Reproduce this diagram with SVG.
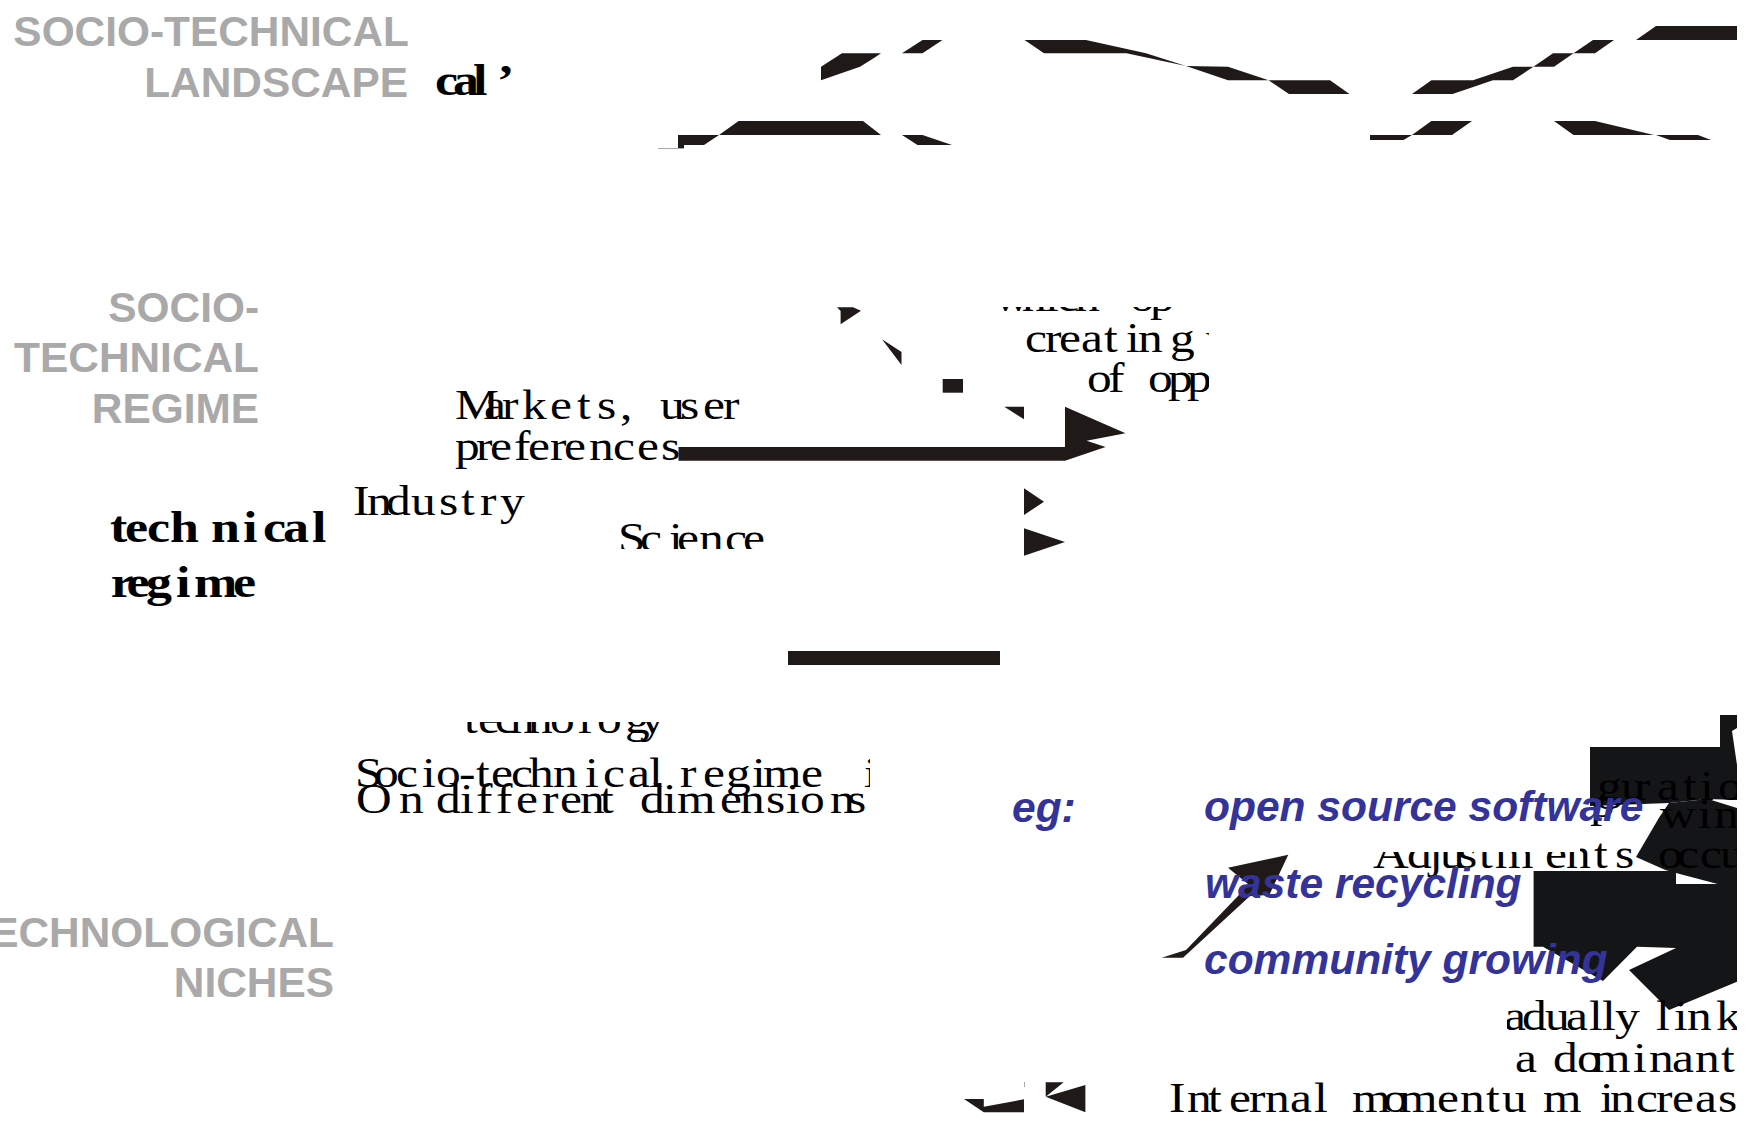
<svg xmlns="http://www.w3.org/2000/svg" width="1748" height="1125" viewBox="0 0 1748 1125">
<style>
.g{font:bold 42.4px "Liberation Sans",Arial,sans-serif;fill:#a9a9a9;text-anchor:end}
.t{font:43px "Liberation Serif","Times New Roman",serif;fill:#000;transform:scale(1.15,1)}
.b{font:bold 44px "Liberation Serif","Times New Roman",serif;fill:#000;transform:scale(1.18,1)}
.e{font:italic bold 42.5px "Liberation Sans",Arial,sans-serif;fill:#333399}
.k{fill:#1f1a17}
.d{fill:#141516}
</style>
<defs>
<clipPath id="c1"><rect x="900" y="307" width="309" height="100"/></clipPath>
<clipPath id="c2"><rect x="600" y="500" width="200" height="49"/></clipPath>
<clipPath id="c3"><rect x="400" y="722" width="300" height="30"/></clipPath>
<clipPath id="c4"><rect x="340" y="740" width="530" height="60"/></clipPath>
<clipPath id="c5"><rect x="1350" y="852" width="230" height="40"/><rect x="1580" y="840" width="157" height="50"/></clipPath>
<clipPath id="c6"><rect x="1507" y="990" width="230" height="135"/></clipPath>
<clipPath id="c7"><rect x="1100" y="760" width="637" height="360"/></clipPath>
</defs>
<g id="landscape-shapes">
<polygon class="k" points="821,66.7 842,53.3 881,53.3 874,58 860,66.7 821,80.3"/>
<polygon class="k" points="902,53.3 922.5,40 942.5,40 922.5,53.3"/>
<polygon class="k" points="1024.5,40 1086,40 1146,53.3 1186,66 1228,66.7 1268.6,80.3 1330,80.3 1349.5,94 1289,94 1268.6,80.3 1228,80.3 1186,66 1126.5,53.3 1044,53.3"/>
<polygon class="k" points="1412,94 1431.4,80.3 1473,80.3 1513,66.7 1533.4,66.7 1553,53.3 1573.5,53.3 1593,40 1614,40 1595,53.3 1573.5,53.3 1554,66.7 1533.4,66.7 1513,80.3 1493,80.3 1452.6,94"/>
<polygon class="k" points="1636,40 1656,26 1737,26 1737,40"/>
<polygon class="k" points="678,135 719,135 738.6,121 863,121 881,135 719,135 704,145 684,145 684,148.3 678,148.3"/>
<rect x="658" y="148" width="26" height="1" fill="#a9a9a9"/>
<polygon class="k" points="902,135 922.5,135 952,145 917.5,145"/>
<polygon class="k" points="1370,135 1412,135 1431.4,121 1472,121 1452,135 1412,135 1403.5,140 1370,140"/>
<polygon class="k" points="1554,121 1595,121 1654,135 1698,135 1711,140 1670,140 1656,135 1573.5,135"/>
</g>
<g id="regime-shapes">
<polygon class="k" points="837,307.3 853,307.3 861,310.7 840.6,324.3 840.6,311"/>
<polygon class="k" points="882,339.3 901.5,352 901.5,365"/>
<rect class="k" x="942.7" y="379" width="20.3" height="13.7"/>
<polygon class="k" points="1004.3,406.7 1024,406.7 1024,419.3"/>
<polygon class="k" points="678.5,447 1065,447 1065,406.7 1125.5,433.3 1086.6,440.7 1105.6,447 1065,460.7 678.5,460.7"/>
<polygon class="k" points="1024,488.3 1044,501.7 1024,515"/>
<polygon class="k" points="1024,528.3 1065,542 1024,555.7"/>
<rect class="k" x="788" y="651" width="212" height="14"/>
</g>
<g id="niche-shapes">
<polygon class="k" points="1161.7,957.7 1186,950 1238,896 1248,884 1228,867.7 1288.3,854.7 1269.3,895 1250,896 1183,957.7"/>
<polygon class="d" points="1590,747 1720,747 1720,715 1737,715 1737,728 1732,731 1737,765 1737,800 1708,799 1669,803 1590,806"/>
<polygon class="d" points="1669,803 1708,799 1737,808 1737,884 1717.7,884 1676,873 1665.4,870 1636,857 1659.6,816.7"/>
<polygon class="d" points="1533.6,871 1676,871 1676,948 1637,946.7 1603,981 1543,946.7 1533.6,946.7"/>
<polygon class="d" points="1676,884 1737,884 1737,981.7 1669,1010 1629,970 1676,948"/>
<polygon class="k" points="964,1099 983.8,1099 983.8,1106.7 1024,1099.3 1024,1112.3 983.8,1112.3"/>
<rect x="1024" y="1082" width="1" height="5" fill="#a9a9a9"/>
<polygon class="k" points="1045.7,1082.3 1063.7,1082.3 1045.7,1096.7"/>
<polygon class="k" points="1085.4,1085 1085.4,1112.3 1045.7,1096.7"/>
</g>
<g id="level-labels">
<text class="g" x="409" y="46">SOCIO-TECHNICAL</text>
<text class="g" x="408" y="97">LANDSCAPE</text>
<text class="g" x="259" y="322">SOCIO-</text>
<text class="g" x="259" y="372">TECHNICAL</text>
<text class="g" x="259" y="423">REGIME</text>
<text class="g" x="334" y="947">TECHNOLOGICAL</text>
<text class="g" x="334" y="997">NICHES</text>
</g>
<g id="body-text">
<text class="b" x="368.6 383.9 400.8 421.2" y="95">cal’</text>
<text class="b" x="93.2 105.9 124.6 144 178.8 205.9 222.9 239.8 264.4" y="542">technical</text>
<text class="b" x="93.8 107.2 123.7 149.2 164.4 197.5" y="597">regime</text>
<text class="t" x="395.7 420.9 436.5 453.9 478.3 501.7 519.1 539.1 556.5 573.9 591.3 611.3 628.7" y="419">Markets, user</text>
<text class="t" x="395.7 413.9 426.1 447 459.1 478.3 490.4 512.2 533 553.9 574.8" y="460">preferences</text>
<text class="t" x="307 319.1 335.7 357.4 381.7 400.9 417.4 434.8" y="515">Industry</text>
<g clip-path="url(#c2)"><text class="t" x="537.4 556.5 581.7 588.7 607.8 630.4 646.1" y="552">Science</text></g>
<g clip-path="url(#c1)">
<text class="t" x="864.3 888.7 908.7 919.1 934.8 965.2 982.6 1000" y="311">which op</text>
<text class="t" x="891.3 908.7 920.9 940 960 979.1 989.6 1017.4 1039.1 1048.7" y="352">creating w</text>
<text class="t" x="945.2 963.5 982.6 998.3 1015.7 1032.2" y="392">of opp</text>
</g>
<g clip-path="url(#c3)"><text class="t" x="403.5 415.7 430.4 443.5 459.1 478.3 502.6 519.1 543.5 556.5" y="733">technology</text></g>
<g clip-path="url(#c4)"><text class="t" x="308.7 325.2 344.3 367 379.1 399.1 413.9 427 444.3 460 480.9 508.7 524.3 546.1 564.3 578.3 591.3 611.3 631.3 653.9 663.5 696.5 721.7 751.3" y="787">Socio-technical regime i</text></g>
<text class="t" x="309.6 347 369.6 379.1 400 413.9 431.3 448.7 471.3 487 504.3 521.7 543.5 556.5 576.5 588.7 626.1 643.5 666.1 683.5 695.7 721.7 736.5" y="813">On different dimensions</text>
<g clip-path="url(#c7)">
<text class="t" x="1388.7 1409.6 1420.9 1440.9 1463.5 1478.3 1493.9" y="800">guratio</text>
<text class="t" x="1382.6" y="817">p</text>
<text class="t" x="1443.5 1476.5 1490.4" y="828">win</text>
</g>
<g clip-path="url(#c5)"><text class="t" x="1193.9 1223.5 1242.6 1252.2 1267.8 1286.1 1300 1343.5 1361.7 1386.1 1404.3 1426.1 1441.7 1458.3 1478.3 1495.7" y="868">Adjustments occu</text></g>
<g clip-path="url(#c6)"><text class="t" x="1307.8 1323.5 1343.5 1361.7 1381.7 1393 1404.3 1426.1 1440 1455.7 1467 1492.2" y="1030">adually link</text></g>
<text class="t" x="1317.4 1334.8 1350.4 1371.3 1384.3 1420 1433.9 1453.9 1473.9 1496.5" y="1072">a dominant</text>
<g clip-path="url(#c7)"><text class="t" x="1016.5 1032.2 1050.4 1068.7 1086.1 1100 1121.7 1142.6 1160.9 1175.7 1202.6 1216.5 1249.6 1269.6 1292.2 1306.1 1341.7 1378.3 1391.3 1400 1422.6 1440 1453.9 1473.9 1493.9" y="1112">Internal momentum increas</text></g>
</g>
<g id="examples">
<text class="e" x="1012" y="822">eg:</text>
<text class="e" x="1204" y="821">open source software</text>
<text class="e" x="1205" y="898">waste recycling</text>
<text class="e" x="1204" y="974">community growing</text>
</g>
</svg>
